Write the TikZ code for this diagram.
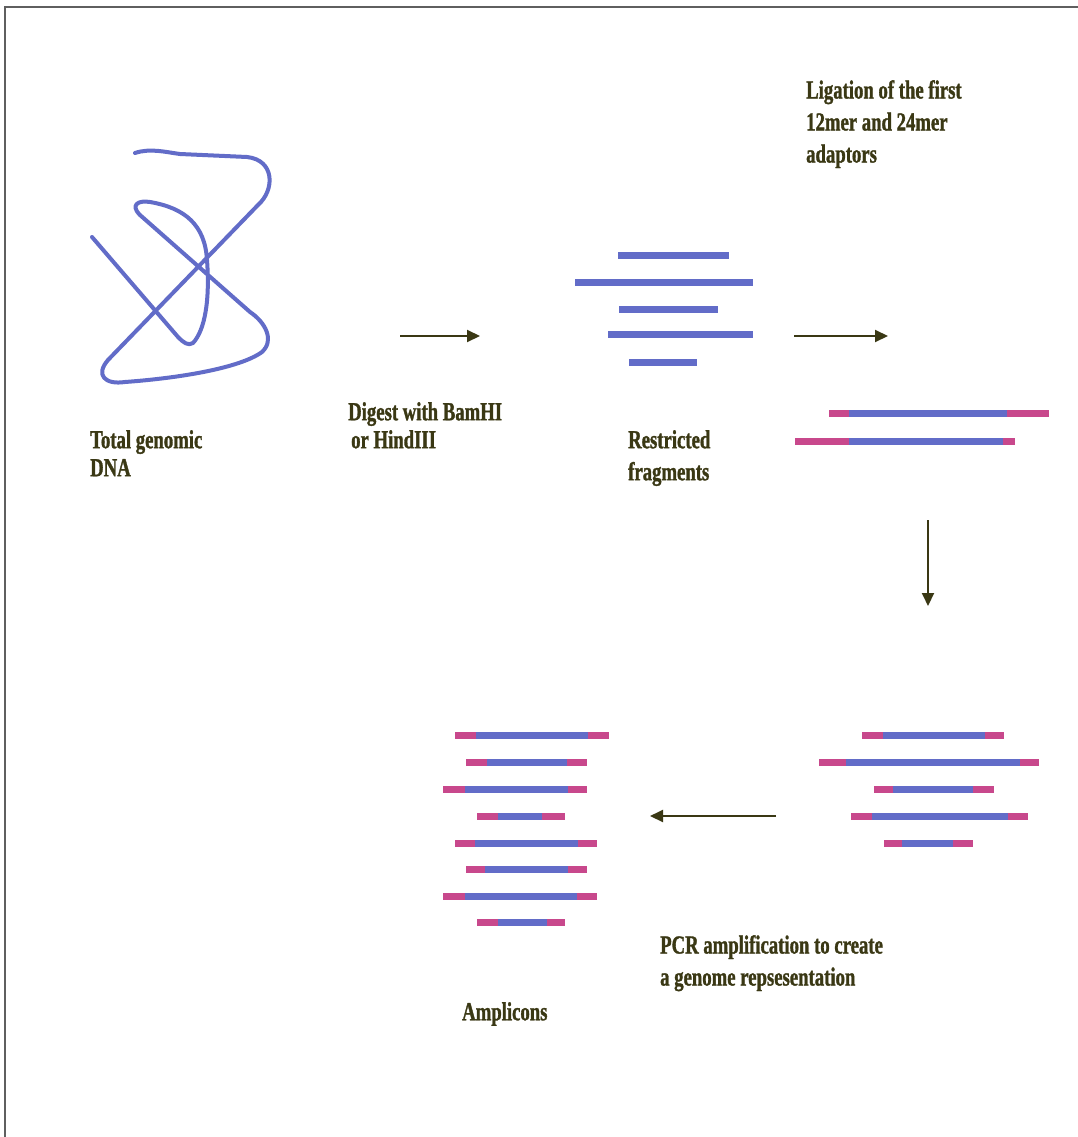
\documentclass[tikz,border=0pt]{standalone}
\usepackage{fontspec}
\newfontfamily\labelfont[FakeStretch=0.72,FakeBold=1.2]{Liberation Serif}
\usetikzlibrary{arrows.meta}

\definecolor{dnablue}{RGB}{98,108,200}
\definecolor{adaptpink}{RGB}{200,72,140}
\definecolor{ink}{RGB}{58,56,20}
\definecolor{framegray}{RGB}{95,95,95}

% a plain restriction fragment, and one carrying adaptors at both ends
\newcommand\plainfrag[3]{\draw[frag,dnablue] (#1,#3) -- (#2,#3);}
\newcommand\adfrag[5]{%
  \draw[frag,adaptpink] (#1,#5) -- (#4,#5);
  \draw[frag,dnablue] (#2,#5) -- (#3,#5);}

\begin{document}
\begin{tikzpicture}[x=1pt,y=-1pt,
  frag/.style={line width=7pt,line cap=butt},
  dna/.style={draw=dnablue,line width=4pt,line join=round,line cap=round},
  label/.style={font=\labelfont\bfseries\fontsize{26}{32}\selectfont,text=ink,
    align=left,anchor=north west,inner sep=0pt},
  tight/.style={font=\labelfont\bfseries\fontsize{26}{28}\selectfont},
  flow/.style={draw=ink,line width=2pt,-{Triangle[length=13pt,width=12pt]}}]

\useasboundingbox (0,0) rectangle (1078,1137);
\fill[white] (0,0) rectangle (1078,1137);
\draw[framegray,line width=2pt] (5,7) rectangle (1110,1170);

% total genomic DNA
\draw[dna] (135,153) .. controls (150,148) and (165,152) .. (180,154) -- (247,157)
  .. controls (275,160) and (275,190) .. (258,205) -- (108,360)
  .. controls (95,375) and (105,385) .. (125,382)
  .. controls (180,378) and (240,368) .. (262,352)
  .. controls (275,340) and (265,322) .. (250,312) -- (140,215)
  .. controls (130,205) and (138,200) .. (150,202)
  .. controls (185,208) and (205,225) .. (207,260)
  .. controls (210,300) and (205,330) .. (193,343)
  .. controls (188,346) and (184,343) .. (178,337) -- (92,237);

% restricted fragments
\plainfrag{618}{729}{255}
\plainfrag{575}{753}{282}
\plainfrag{619}{718}{309}
\plainfrag{608}{753}{334}
\plainfrag{629}{697}{362}

% fragments after adaptor ligation
\adfrag{829}{849}{1007}{1049}{413}
\adfrag{795}{849}{1003}{1015}{441}

% adaptor-ligated fragments
\adfrag{862}{883}{985}{1004}{735}
\adfrag{819}{846}{1020}{1039}{762}
\adfrag{874}{893}{973}{994}{789}
\adfrag{851}{872}{1008}{1028}{816}
\adfrag{884}{902}{953}{973}{843}

% amplicons
\adfrag{455}{476}{588}{609}{735}
\adfrag{466}{487}{567}{587}{762}
\adfrag{443}{465}{568}{587}{789}
\adfrag{477}{498}{542}{565}{816}
\adfrag{455}{475}{578}{597}{843}
\adfrag{466}{485}{568}{587}{869}
\adfrag{443}{465}{577}{597}{896}
\adfrag{477}{498}{547}{565}{922}

% step arrows
\coordinate (digA) at (400,336);  \coordinate (digB) at (480,336);
\coordinate (ligA) at (794,336);  \coordinate (ligB) at (888,336);
\coordinate (downA) at (928,520); \coordinate (downB) at (928,606);
\coordinate (pcrA) at (776,816);  \coordinate (pcrB) at (650,816);
\draw[flow] (digA) -- (digB);
\draw[flow] (ligA) -- (ligB);
\draw[flow] (downA) -- (downB);
\draw[flow] (pcrA) -- (pcrB);

% labels
\node[label,tight] (genomic) at (90,430) {Total genomic\\DNA};
\node[label,tight] (digest) at (348,402) {Digest with BamHI\\\hspace{3pt}or HindIII};
\node[label] (restricted) at (628,430) {Restricted\\fragments};
\node[label] (ligation) at (806,80) {Ligation of the first\\12mer and 24mer\\adaptors};
\node[label] (pcr) at (660,935) {PCR amplification to create\\a genome repsesentation};
\node[label] (amplicons) at (462,1002) {Amplicons};
\end{tikzpicture}
\end{document}
